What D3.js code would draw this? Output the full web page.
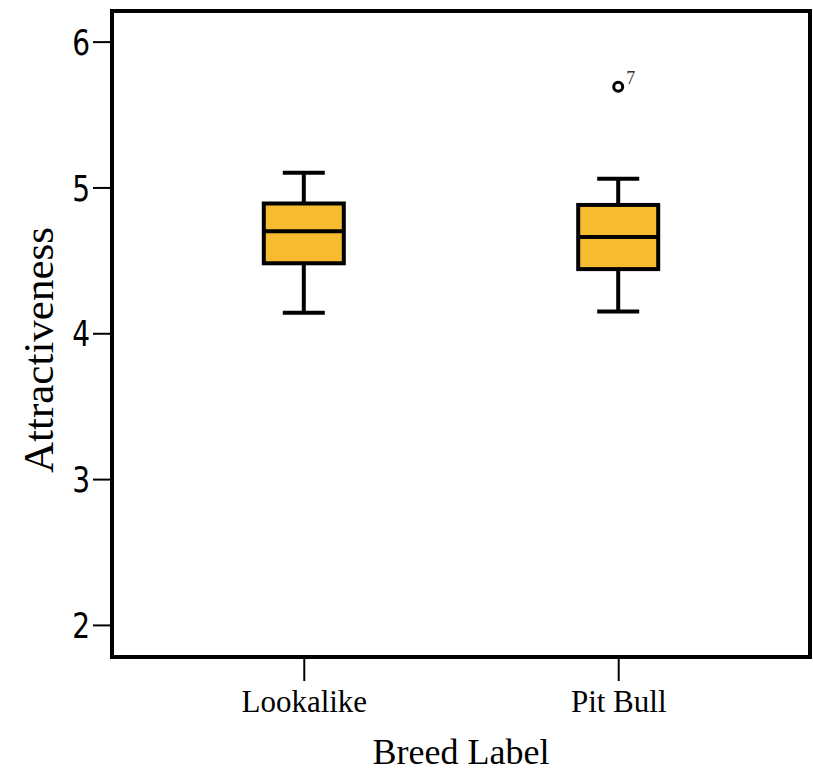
<!DOCTYPE html>
<html>
<head>
<meta charset="utf-8">
<script src="https://cdn.jsdelivr.net/npm/d3@7"></script>
<style>
  html, body { margin: 0; padding: 0; background: #fff; }
  svg { display: block; }
</style>
</head>
<body>
<svg id="chart" width="813" height="774"></svg>
<script>
// ---- data ----
const categories = ["Lookalike", "Pit Bull"];
const whiskerLow  = [4.14, 4.15];
const q1          = [4.48, 4.44];
const medians     = [4.70, 4.66];
const q3          = [4.89, 4.88];
const whiskerHigh = [5.10, 5.06];
const outlierCategory = ["Pit Bull"];
const outlierValues   = [5.69];
const outlierLabels   = ["7"];
const yTicks = [2, 3, 4, 5, 6];
const xTitle = "Breed Label";
const yTitle = "Attractiveness";

(function () {
// ---- layout ----
const svg = d3.select("#chart");
const pL = 112, pR = 810, pT = 11, pB = 657;
const boxWidth = 80, capWidth = 42;
const fill = "#F6BB2F";

const y = d3.scaleLinear().domain([1.78, 6.21]).range([pB, pT]);
const x = d3.scalePoint().domain(categories).range([pL, pR]).padding(0.61);

// y axis
const yAxis = svg.append("g")
  .attr("transform", `translate(${pL},0)`)
  .call(d3.axisLeft(y).tickValues(yTicks).tickSize(19).tickPadding(4).tickFormat(d3.format("d")));
yAxis.select(".domain").remove();
yAxis.selectAll(".tick line").attr("stroke", "#000").attr("stroke-width", 2);
yAxis.selectAll(".tick text")
  .attr("fill", "#000")
  .style("font-family", "'DejaVu Sans', sans-serif")
  .style("font-size", "35px")
  .attr("dy", "0.36em")
  .each(function() {
    const s = 0.8;
    d3.select(this).attr("transform", `scale(${s},1)`).attr("x", -22 / s);
  });

// x axis
const xAxis = svg.append("g")
  .attr("transform", `translate(0,${pB})`)
  .call(d3.axisBottom(x).tickSize(24).tickPadding(8));
xAxis.select(".domain").remove();
xAxis.selectAll(".tick line").attr("stroke", "#000").attr("stroke-width", 2);
xAxis.selectAll(".tick text")
  .attr("fill", "#000")
  .style("font-family", "'Liberation Serif', serif")
  .style("font-size", "31px")
  .attr("dy", "0.75em");

// frame
svg.append("rect")
  .attr("x", pL).attr("y", pT)
  .attr("width", pR - pL).attr("height", pB - pT)
  .attr("fill", "none").attr("stroke", "#000").attr("stroke-width", 4);

// boxes
const g = svg.append("g");
categories.forEach((c, i) => {
  const cx = x(c);
  g.append("line").attr("x1", cx).attr("x2", cx)
    .attr("y1", y(q3[i])).attr("y2", y(whiskerHigh[i]))
    .attr("stroke", "#000").attr("stroke-width", 4);
  g.append("line").attr("x1", cx).attr("x2", cx)
    .attr("y1", y(q1[i])).attr("y2", y(whiskerLow[i]))
    .attr("stroke", "#000").attr("stroke-width", 4);
  g.append("line").attr("x1", cx - capWidth / 2).attr("x2", cx + capWidth / 2)
    .attr("y1", y(whiskerHigh[i])).attr("y2", y(whiskerHigh[i]))
    .attr("stroke", "#000").attr("stroke-width", 4);
  g.append("line").attr("x1", cx - capWidth / 2).attr("x2", cx + capWidth / 2)
    .attr("y1", y(whiskerLow[i])).attr("y2", y(whiskerLow[i]))
    .attr("stroke", "#000").attr("stroke-width", 4);
  g.append("rect")
    .attr("x", cx - boxWidth / 2).attr("y", y(q3[i]))
    .attr("width", boxWidth).attr("height", y(q1[i]) - y(q3[i]))
    .attr("fill", fill).attr("stroke", "#000").attr("stroke-width", 4);
  g.append("line").attr("x1", cx - boxWidth / 2).attr("x2", cx + boxWidth / 2)
    .attr("y1", y(medians[i])).attr("y2", y(medians[i]))
    .attr("stroke", "#000").attr("stroke-width", 4);
});

// outliers
outlierValues.forEach((v, i) => {
  const cx = x(outlierCategory[i]);
  g.append("circle").attr("cx", cx).attr("cy", y(v)).attr("r", 4.5)
    .attr("fill", "#fff").attr("stroke", "#000").attr("stroke-width", 3);
  g.append("text").attr("x", cx + 8).attr("y", y(v) - 3)
    .text(outlierLabels[i])
    .style("font-family", "'Liberation Serif', serif")
    .style("font-size", "18px").attr("fill", "#333");
});

// titles
svg.append("text")
  .attr("x", (pL + pR) / 2).attr("y", 764)
  .attr("text-anchor", "middle")
  .style("font-family", "'Liberation Serif', serif")
  .style("font-size", "36px")
  .text(xTitle);
svg.append("text")
  .attr("transform", "translate(53,350) rotate(-90)")
  .attr("text-anchor", "middle")
  .style("font-family", "'Liberation Serif', serif")
  .style("font-size", "43px")
  .text(yTitle);
})();
</script>
</body>
</html>
